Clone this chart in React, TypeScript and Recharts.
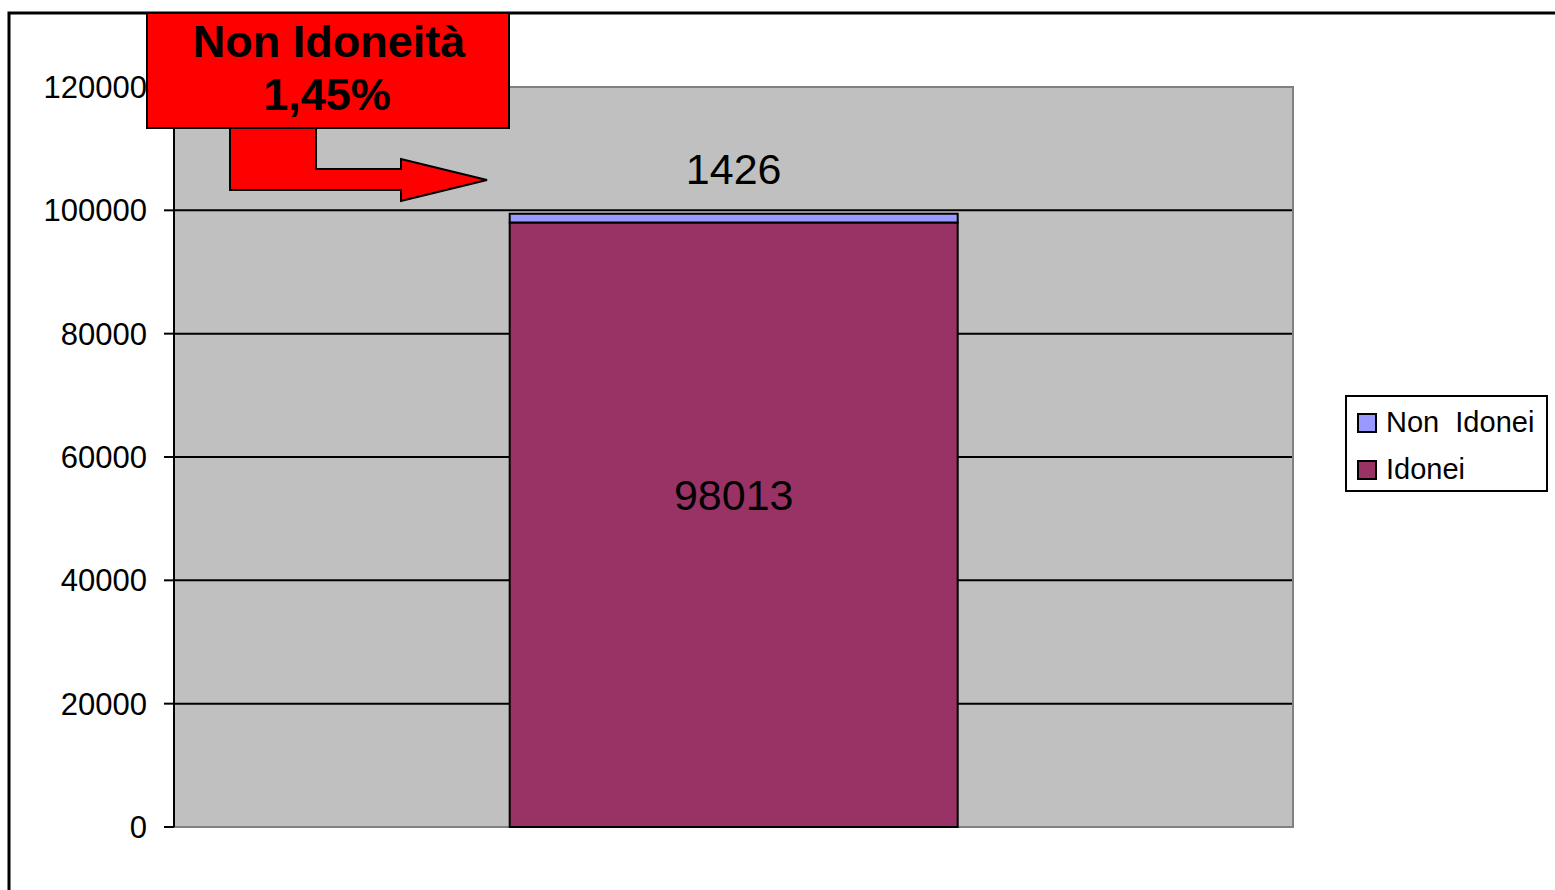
import React from "react";
import {
  Bar,
  BarChart,
  CartesianGrid,
  LabelList,
  ReferenceArea,
  XAxis,
  YAxis,
} from "recharts";

const categories = [""];
const idonei = [98013];
const nonIdonei = [1426];
const yTicks = [0, 20000, 40000, 60000, 80000, 100000, 120000];
const gridLines = [20000, 40000, 60000, 80000, 100000];
const calloutTitle = "Non Idoneità";
const calloutValue = "1,45%";

const data = categories.map((name, i) => ({
  name,
  idonei: idonei[i],
  nonIdonei: nonIdonei[i],
}));

const FONT = "'Liberation Sans', Arial, sans-serif";

const legendItems = [
  { label: "Non Idonei", color: "#9999FF" },
  { label: "Idonei", color: "#993366" },
];

function LegendBox() {
  return (
    <div
      style={{
        position: "absolute",
        left: 1345,
        top: 395,
        width: 203,
        height: 97,
        border: "2px solid #000",
        background: "#fff",
        boxSizing: "border-box",
        fontFamily: FONT,
        fontSize: 29,
        color: "#000",
        padding: "2px 0 0 10px",
      }}
    >
      {legendItems.map((it) => (
        <div key={it.label} style={{ display: "flex", alignItems: "center", height: 47 }}>
          <span
            style={{
              width: 16,
              height: 16,
              background: it.color,
              border: "2px solid #000",
              marginRight: 9,
              display: "inline-block",
            }}
          />
          <span style={{ whiteSpace: "pre" }}>{it.label.replace(" ", "  ")}</span>
        </div>
      ))}
    </div>
  );
}

export default function App() {
  return (
    <div
      style={{
        position: "fixed",
        left: 0,
        top: 0,
        width: 1555,
        height: 890,
        background: "#fff",
        overflow: "hidden",
        fontFamily: FONT,
      }}
    >
      <BarChart
        width={1555}
        height={890}
        data={data}
        margin={{ top: 87, right: 262, bottom: 63, left: 0 }}
        barCategoryGap="30%"
      >
        <CartesianGrid
          vertical={false}
          horizontalValues={gridLines}
          stroke="#000"
          strokeWidth={2}
          fill="#C0C0C0"
          fillOpacity={1}
        />
        <ReferenceArea
          y1={0}
          y2={120000}
          fill="none"
          stroke="#808080"
          strokeWidth={2}
        />
        <XAxis dataKey="name" hide />
        <YAxis
          width={174}
          domain={[0, 120000]}
          ticks={yTicks}
          interval={0}
          axisLine={{ stroke: "#000", strokeWidth: 2 }}
          tickLine={{ stroke: "#000", strokeWidth: 2 }}
          tickSize={10}
          tickMargin={17}
          tick={{ fill: "#000", fontSize: 31, fontFamily: FONT }}
        />
        <Bar
          dataKey="idonei"
          stackId="a"
          fill="#993366"
          stroke="#000"
          strokeWidth={2}
          isAnimationActive={false}
        >
          <LabelList
            dataKey="idonei"
            position="center"
            fill="#000"
            fontSize={43}
            fontFamily={FONT}
            dy={-30}
          />
        </Bar>
        <Bar
          dataKey="nonIdonei"
          stackId="a"
          fill="#9999FF"
          stroke="#000"
          strokeWidth={2}
          isAnimationActive={false}
        >
          <LabelList
            dataKey="nonIdonei"
            position="top"
            offset={30}
            fill="#000"
            fontSize={43}
            fontFamily={FONT}
          />
        </Bar>
      </BarChart>

      <LegendBox />

      {/* frame and callout drawn on top */}
      <svg
        width={1555}
        height={890}
        style={{ position: "absolute", left: 0, top: 0, pointerEvents: "none" }}
      >
        <path d="M9 890 V13 H1555" fill="none" stroke="#000" strokeWidth={3} />
        <polygon
          points="230,127 230,190 401,190 401,201 487,180 401,159 401,169 316,169 316,127"
          fill="#FF0000"
          stroke="#000"
          strokeWidth={2}
        />
        <rect x={147} y={13} width={362} height={115} fill="#FF0000" stroke="#000" strokeWidth={2} />
        <text
          x={329}
          y={57}
          textAnchor="middle"
          fontFamily={FONT}
          fontWeight="bold"
          fontSize={45}
          fill="#000"
        >
          {calloutTitle}
        </text>
        <text
          x={327}
          y={110}
          textAnchor="middle"
          fontFamily={FONT}
          fontWeight="bold"
          fontSize={45}
          fill="#000"
        >
          {calloutValue}
        </text>
      </svg>
    </div>
  );
}
